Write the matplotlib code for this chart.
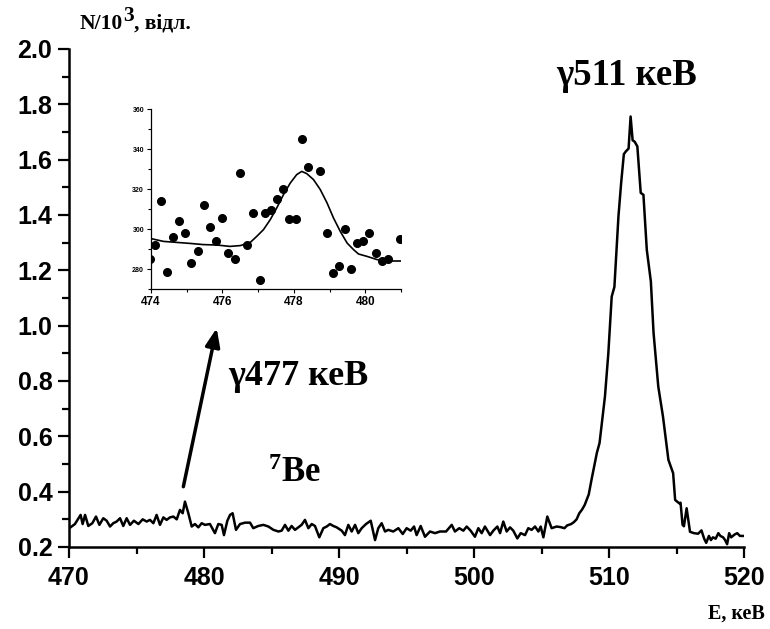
import matplotlib
matplotlib.use("Agg")
import matplotlib.pyplot as plt
from matplotlib.ticker import MultipleLocator

plt.rcParams["mathtext.fontset"] = "custom"
plt.rcParams["mathtext.rm"] = "Liberation Serif"
plt.rcParams["mathtext.bf"] = "Liberation Serif:bold"

# основний спектр (кеВ, N/10^3)
energy = [
    470.00, 470.44, 470.86, 471.01, 471.19, 471.43, 471.73, 472.00, 472.25, 472.54,
    472.79, 473.04, 473.28, 473.53, 473.78, 474.02, 474.27, 474.52, 474.81, 475.14,
    475.46, 475.75, 476.00, 476.25, 476.49, 476.74, 476.99, 477.23, 477.48, 477.73,
    477.98, 478.22, 478.42, 478.59, 478.84, 479.09, 479.33, 479.58, 479.83, 480.07,
    480.44, 480.81, 481.06, 481.31, 481.48, 481.73, 481.93, 482.12, 482.37, 482.67,
    483.04, 483.41, 483.65, 484.02, 484.40, 484.77, 485.14, 485.51, 485.75, 486.00,
    486.25, 486.49, 486.74, 486.99, 487.23, 487.48, 487.73, 487.98, 488.22, 488.54,
    488.84, 489.09, 489.33, 489.58, 489.83, 490.20, 490.44, 490.69, 490.94, 491.19,
    491.43, 491.68, 492.00, 492.35, 492.67, 492.91, 493.16, 493.41, 493.65, 494.02,
    494.40, 494.72, 495.01, 495.31, 495.56, 495.75, 496.05, 496.37, 496.74, 497.11,
    497.48, 497.93, 498.35, 498.59, 498.91, 499.21, 499.46, 499.75, 500.07, 500.32,
    500.57, 500.81, 501.19, 501.43, 501.73, 501.93, 502.17, 502.42, 502.67, 502.91,
    503.21, 503.46, 503.78, 504.02, 504.27, 504.52, 504.77, 504.94, 505.14, 505.43,
    505.75, 506.12, 506.40, 506.70, 506.90, 507.20, 507.40, 507.60, 507.80, 508.00,
    508.20, 508.50, 508.70, 508.90, 509.10, 509.30, 509.50, 509.70, 509.95, 510.20,
    510.40, 510.70, 510.90, 511.10, 511.25, 511.45, 511.60, 511.75, 511.90, 512.10,
    512.35, 512.55, 512.80, 513.10, 513.30, 513.65, 514.00, 514.40, 514.75, 514.90,
    515.20, 515.30, 515.45, 515.55, 515.75, 516.00, 516.30, 516.60, 516.85, 517.05,
    517.20, 517.40, 517.55, 517.70, 517.90, 518.10, 518.25, 518.45, 518.60, 518.75,
    518.90, 519.05, 519.30, 519.50, 519.70, 520.00,
]
counts = [
    0.267, 0.283, 0.316, 0.283, 0.316, 0.276, 0.286, 0.310, 0.280, 0.304,
    0.295, 0.274, 0.286, 0.292, 0.304, 0.276, 0.304, 0.280, 0.295, 0.283,
    0.300, 0.292, 0.298, 0.286, 0.316, 0.280, 0.307, 0.298, 0.307, 0.310,
    0.300, 0.334, 0.322, 0.364, 0.322, 0.274, 0.283, 0.271, 0.286, 0.280,
    0.283, 0.250, 0.283, 0.280, 0.243, 0.295, 0.316, 0.322, 0.262, 0.283,
    0.288, 0.288, 0.268, 0.276, 0.280, 0.274, 0.262, 0.256, 0.259, 0.280,
    0.259, 0.276, 0.262, 0.271, 0.280, 0.298, 0.268, 0.283, 0.276, 0.235,
    0.268, 0.274, 0.283, 0.276, 0.271, 0.259, 0.243, 0.280, 0.256, 0.280,
    0.250, 0.268, 0.283, 0.295, 0.225, 0.268, 0.286, 0.256, 0.262, 0.256,
    0.268, 0.247, 0.268, 0.259, 0.274, 0.243, 0.276, 0.237, 0.256, 0.250,
    0.256, 0.256, 0.280, 0.256, 0.268, 0.259, 0.274, 0.259, 0.237, 0.268,
    0.250, 0.274, 0.243, 0.259, 0.274, 0.250, 0.292, 0.256, 0.271, 0.259,
    0.231, 0.250, 0.243, 0.268, 0.262, 0.274, 0.256, 0.274, 0.235, 0.310,
    0.268, 0.274, 0.272, 0.268, 0.278, 0.283, 0.290, 0.300, 0.322, 0.335,
    0.352, 0.390, 0.442, 0.490, 0.540, 0.576, 0.660, 0.744, 0.900, 1.105,
    1.140, 1.395, 1.516, 1.620, 1.630, 1.640, 1.756, 1.670, 1.665, 1.648,
    1.480, 1.473, 1.274, 1.160, 0.974, 0.780, 0.671, 0.515, 0.467, 0.370,
    0.358, 0.360, 0.280, 0.275, 0.340, 0.255, 0.250, 0.248, 0.260, 0.230,
    0.215, 0.240, 0.225, 0.235, 0.230, 0.250, 0.240, 0.235, 0.225, 0.210,
    0.250, 0.235, 0.245, 0.250, 0.240, 0.240,
]

# вставка: експериментальні точки та підгонка (відліки)
inset_e = [
    473.97, 474.11, 474.28, 474.46, 474.61, 474.79, 474.96, 475.12, 475.31, 475.48,
    475.64, 475.82, 475.99, 476.16, 476.34, 476.50, 476.68, 476.85, 477.06, 477.20,
    477.36, 477.53, 477.70, 477.87, 478.06, 478.24, 478.40, 478.74, 478.92, 479.09,
    479.27, 479.44, 479.61, 479.78, 479.94, 480.11, 480.29, 480.46, 480.63, 480.96,
]
inset_n = [
    285.2, 292.0, 314.2, 278.7, 296.2, 304.2, 298.2, 283.0, 289.0, 312.2,
    301.2, 294.2, 305.3, 288.2, 285.0, 328.2, 292.2, 308.2, 274.7, 308.2,
    309.3, 315.0, 320.0, 305.0, 305.0, 345.0, 331.2, 329.0, 298.0, 278.0,
    281.3, 300.0, 280.0, 292.8, 294.2, 298.0, 288.2, 284.0, 285.2, 295.0,
]
fit_e = [
    474.00, 474.35, 474.72, 475.09, 475.47, 475.84, 476.21, 476.50, 476.78, 476.96,
    477.15, 477.34, 477.52, 477.71, 477.90, 478.08, 478.22, 478.36, 478.55, 478.74,
    478.93, 479.11, 479.30, 479.49, 479.67, 479.81, 480.05, 480.33, 480.61, 481.00,
]
fit_n = [
    295.2, 293.8, 293.3, 292.8, 292.2, 292.0, 291.3, 291.7, 293.3, 296.3,
    299.7, 304.7, 310.5, 317.2, 323.0, 327.2, 328.8, 327.7, 324.7, 319.7,
    313.0, 305.5, 298.8, 293.0, 289.7, 287.5, 286.3, 284.7, 284.0, 284.0,
]

serif_bold = dict(family="Liberation Serif", fontweight="bold")

fig = plt.figure(figsize=(7.7, 6.29), dpi=100)
ax = fig.add_axes([69 / 770, 82 / 629, 675 / 770, 498 / 629])
ax.plot(energy, counts, color="black", lw=1.8)
ax.set_xlim(470, 520)
ax.set_ylim(0.2, 2.0)
ax.xaxis.set_major_locator(MultipleLocator(10))
ax.xaxis.set_minor_locator(MultipleLocator(5))
ax.yaxis.set_major_locator(MultipleLocator(0.2))
ax.yaxis.set_minor_locator(MultipleLocator(0.1))
for side in ("top", "right"):
    ax.spines[side].set_visible(False)
for side in ("left", "bottom"):
    ax.spines[side].set_linewidth(1.8)
ax.tick_params(which="major", direction="out", length=8, width=1.6)
ax.tick_params(which="minor", direction="out", length=5, width=1.6)
ax.tick_params(axis="x", pad=6)
ax.tick_params(axis="y", pad=4)
for lab in ax.get_xticklabels() + ax.get_yticklabels():
    lab.set_family("Liberation Sans")
    lab.set_fontweight("bold")
    lab.set_fontsize(18)

# підпис осі Y: "N/10", велика "3" у верхньому індексі, ", відл."
t1 = fig.text(80 / 770, (629 - 34) / 629, "N/10", fontsize=15.5,
              va="bottom", **serif_bold)
t2 = ax.annotate("3", xy=(1.0, 0.42), xycoords=t1, fontsize=15.5,
                 va="bottom", annotation_clip=False, **serif_bold)
ax.annotate(", відл.", xy=(1.0, 0.0), xycoords=(t2, t1), fontsize=15.5,
            va="bottom", annotation_clip=False, **serif_bold)

fig.text(765 / 770, (629 - 619) / 629, "E, кеВ",
         fontsize=14.5, ha="right", va="baseline", **serif_bold)

ax.text(506.07, 1.871, "γ511 кеВ", fontsize=26.5, va="baseline", **serif_bold)
ax.text(481.78, 0.786, "γ477 кеВ", fontsize=26, va="baseline", **serif_bold)
ax.text(484.76, 0.436, r"$\mathbf{^{7}Be}$", fontsize=25, va="baseline")
ax.annotate("", xy=(480.94, 0.991), xytext=(478.47, 0.418),
            arrowprops=dict(arrowstyle="-|>,head_length=0.5,head_width=0.2",
                            lw=2.5, color="black",
                            mutation_scale=22, shrinkA=0, shrinkB=0))

# вставка
ins = fig.add_axes([151 / 770, (629 - 289) / 629, 250 / 770, 180 / 629])
ins.plot(inset_e, inset_n, "o", color="black", ms=5.5)
ins.plot(fit_e, fit_n, color="black", lw=1.2)
ins.set_xlim(474, 481)
ins.set_ylim(270, 360)
ins.xaxis.set_major_locator(MultipleLocator(2))
ins.xaxis.set_minor_locator(MultipleLocator(1))
ins.yaxis.set_major_locator(MultipleLocator(20))
ins.yaxis.set_minor_locator(MultipleLocator(10))
for side in ("top", "right"):
    ins.spines[side].set_visible(False)
for side in ("left", "bottom"):
    ins.spines[side].set_linewidth(0.9)
ins.tick_params(which="major", direction="out", length=3, width=0.8, pad=2)
ins.tick_params(which="minor", direction="out", length=2, width=0.8)
for lab in ins.get_xticklabels():
    lab.set_family("Liberation Sans")
    lab.set_fontweight("bold")
    lab.set_fontsize(8.5)
for lab in ins.get_yticklabels():
    lab.set_family("Liberation Sans")
    lab.set_fontweight("bold")
    lab.set_fontsize(5)

fig.savefig("out.png", dpi=100)
